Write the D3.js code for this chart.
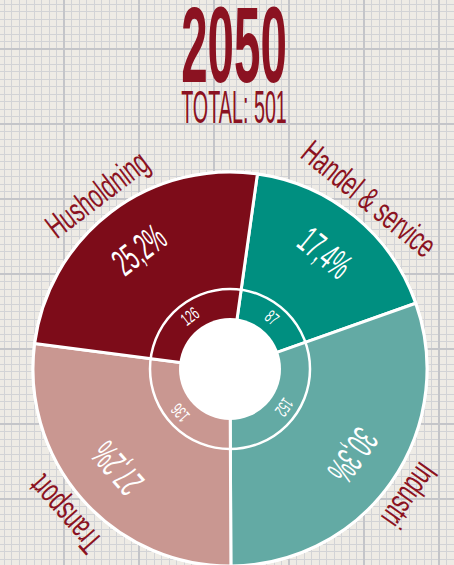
<!DOCTYPE html>
<html>
<head>
<meta charset="utf-8">
<script src="https://cdn.jsdelivr.net/npm/d3@7"></script>
<style>
  html, body { margin: 0; padding: 0; background: #eeebe5; }
  svg { display: block; }
  text { font-family: "Liberation Sans", Arial, sans-serif; }
</style>
</head>
<body>
<div id="chart"></div>
<script>
// data, clockwise from the top
const categories = ["Handel & service", "Industri", "Transport", "Husholdning"];
const values = [87, 152, 136, 126];
const shares = [17.4, 30.3, 27.2, 25.2];
const colors = ["#008f80", "#63aaa4", "#c99791", "#7d0c19"];
const year = "2050";

const width = 454, height = 565;
const cx = 230, cy = 369;
const rOuter = 197, rRing = 80, rHole = 51;
const dark = "#8b1221";

const svg = d3.select("#chart").append("svg")
  .attr("width", width)
  .attr("height", height);

// graph paper background
svg.append("rect").attr("width", width).attr("height", height).attr("fill", "#eeebe5");

const grid = svg.append("g").attr("shape-rendering", "crispEdges");
const fine = d3.range(4, 570, 7.5);
grid.selectAll(".fx").data(fine).join("line")
  .attr("class", "fx")
  .attr("x1", d => d).attr("x2", d => d).attr("y1", 0).attr("y2", height)
  .attr("stroke", "#d2d3d6").attr("stroke-width", 1);
grid.selectAll(".fy").data(fine).join("line")
  .attr("class", "fy")
  .attr("y1", d => d).attr("y2", d => d).attr("x1", 0).attr("x2", width)
  .attr("stroke", "#d2d3d6").attr("stroke-width", 1);
grid.selectAll(".tx").data(d3.range(-11, 470, 75)).join("line")
  .attr("class", "tx")
  .attr("x1", d => d).attr("x2", d => d).attr("y1", 0).attr("y2", height)
  .attr("stroke", "#c4c5c9").attr("stroke-width", 2);
grid.selectAll(".ty").data(d3.range(-26, 580, 75)).join("line")
  .attr("class", "ty")
  .attr("y1", d => d).attr("y2", d => d).attr("x1", 0).attr("x2", width)
  .attr("stroke", "#c4c5c9").attr("stroke-width", 2);

// title
const total = d3.sum(values);
svg.append("text")
  .attr("transform", "translate(234,82) scale(0.44,1)")
  .attr("text-anchor", "middle")
  .attr("font-size", 98).attr("font-weight", "bold")
  .attr("fill", dark)
  .text(year)
  .attr("font-size", 108);
svg.append("text")
  .attr("transform", "translate(234,123) scale(0.42,1)")
  .attr("text-anchor", "middle")
  .attr("font-size", 47)
  .attr("fill", dark)
  .text("TOTAL: " + total);

// pie
const pie = d3.pie().value(d => d).sort(null)
  .startAngle(8 * Math.PI / 180)
  .endAngle(368 * Math.PI / 180);
const slices = pie(values);

const g = svg.append("g").attr("transform", `translate(${cx},${cy})`);

// white outer rim
g.append("circle").attr("r", rOuter + 1.5).attr("fill", "#fff");

const arc = d3.arc().innerRadius(0).outerRadius(rOuter);
g.selectAll("path.slice").data(slices).join("path")
  .attr("class", "slice")
  .attr("d", arc)
  .attr("fill", (d, i) => colors[i])
  .attr("stroke", "#fff")
  .attr("stroke-width", 3)
  .attr("stroke-linejoin", "round");

g.append("circle").attr("r", rRing)
  .attr("fill", "none").attr("stroke", "#fff").attr("stroke-width", 2.5);
g.append("circle").attr("r", rHole).attr("fill", "#fff");

const mid = d => (d.startAngle + d.endAngle) / 2;
const deg = a => a * 180 / Math.PI;
const fmt = v => d3.format(".1f")(v).replace(".", ",") + "%";

function placeLabel(sel, r, size, sx, color, textFn) {
  const lg = sel.append("g")
    .attr("transform", d => {
      const a = mid(d);
      return `translate(${r * Math.sin(a)},${-r * Math.cos(a)}) rotate(${deg(a)})`;
    });
  lg.append("text")
    .attr("transform", `scale(${sx},1)`)
    .attr("text-anchor", "middle")
    .attr("font-size", size)
    .attr("fill", color)
    .text(textFn);
}

const labels = g.selectAll("g.lab").data(slices).join("g").attr("class", "lab");
placeLabel(labels, 208, 34, 0.63, dark, (d, i) => categories[i]);
placeLabel(labels, 137, 38, 0.52, "#fff", (d, i) => fmt(shares[i]));
placeLabel(labels, 60, 18, 0.58, "#fff", d => d.data);
</script>
</body>
</html>
